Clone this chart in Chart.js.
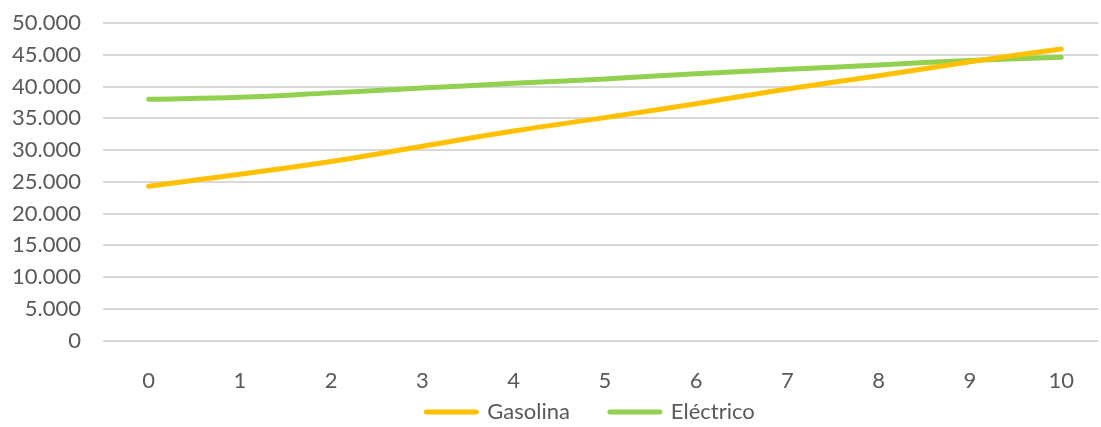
<!DOCTYPE html>
<html>
<head>
<meta charset="utf-8">
<script src="https://cdn.jsdelivr.net/npm/chart.js@4.4.1/dist/chart.umd.min.js"></script>
<style>
  html, body { margin: 0; padding: 0; background: #fff; overflow: hidden; }
  #wrap { width: 1101px; height: 427px; }
</style>
</head>
<body>
<div id="wrap"><canvas id="costChart"></canvas></div>
<script>
  // Años y coste acumulado por tipo de vehículo
  const years = [0, 1, 2, 3, 4, 5, 6, 7, 8, 9, 10];
  const gasolina = [24300, 26200, 28200, 30600, 33000, 35100, 37300, 39600, 41700, 43900, 45900];
  const electrico = [38000, 38300, 39000, 39750, 40500, 41200, 42000, 42700, 43400, 44100, 44600];
  const yTicks = [0, 5000, 10000, 15000, 20000, 25000, 30000, 35000, 40000, 45000, 50000];

  const textColor = "#595959";
  const gridColor = "#d9d9d9";
  const font = { family: "Lato", size: 22 };

  function miles(v) {
    return String(v).replace(/\B(?=(\d{3})+(?!\d))/g, ".");
  }

  function points(values) {
    return years.map(function (y, i) { return { x: y, y: values[i] }; });
  }

  // leyenda compacta: el padding solo separa las entradas, no ocupa alto
  const legendPlace = {
    id: "legendPlace",
    beforeLayout: function (chart) {
      const lg = chart.legend;
      if (lg && !lg._compact) {
        const fit = lg.fit;
        lg.fit = function () { fit.call(this); this.height = 6; };
        lg._compact = true;
      }
    },
    afterLayout: function (chart) {
      const lg = chart.legend;
      lg.left += 40;
      lg.right += 40;
      lg.top = 361;
    }
  };

  new Chart(document.getElementById("costChart").getContext("2d"), {
    type: "line",
    data: {
      datasets: [
        { label: "Gasolina", data: points(gasolina), borderColor: "#FFC000", backgroundColor: "#FFC000" },
        { label: "Eléctrico", data: points(electrico), borderColor: "#92D050", backgroundColor: "#92D050" }
      ]
    },
    options: {
      responsive: true,
      maintainAspectRatio: false,
      animation: false,
      layout: { padding: { top: 23, right: 0, bottom: 0, left: 0 } },
      elements: {
        line: { borderWidth: 5, tension: 0.4, borderCapStyle: "round", borderJoinStyle: "round" },
        point: { radius: 0 }
      },
      scales: {
        x: {
          type: "linear",
          min: -0.5,
          max: 10.41,
          grid: { display: false, drawTicks: false },
          border: { display: false },
          afterBuildTicks: function (scale) {
            scale.ticks = years.map(function (v) { return { value: v }; });
          },
          ticks: { color: textColor, font: font, padding: 27, maxRotation: 0, autoSkip: false,
            callback: function (v) { return String(v); } }
        },
        y: {
          min: 0,
          max: 50000,
          afterFit: function (scale) {
            scale.width = 103;
            scale.paddingTop = 0;
            scale.paddingBottom = 0;
          },
          afterBuildTicks: function (scale) {
            scale.ticks = yTicks.map(function (v) { return { value: v }; });
          },
          grid: { color: gridColor, lineWidth: 2, drawTicks: false },
          border: { display: false },
          ticks: { color: textColor, font: font, padding: 22, autoSkip: false,
            callback: function (v) { return miles(v); } }
        }
      },
      plugins: {
        legend: {
          position: "bottom",
          labels: { color: textColor, font: font, boxWidth: 50, boxHeight: 0, padding: 40 }
        },
        tooltip: { enabled: false }
      }
    },
    plugins: [legendPlace]
  });
</script>
</body>
</html>
